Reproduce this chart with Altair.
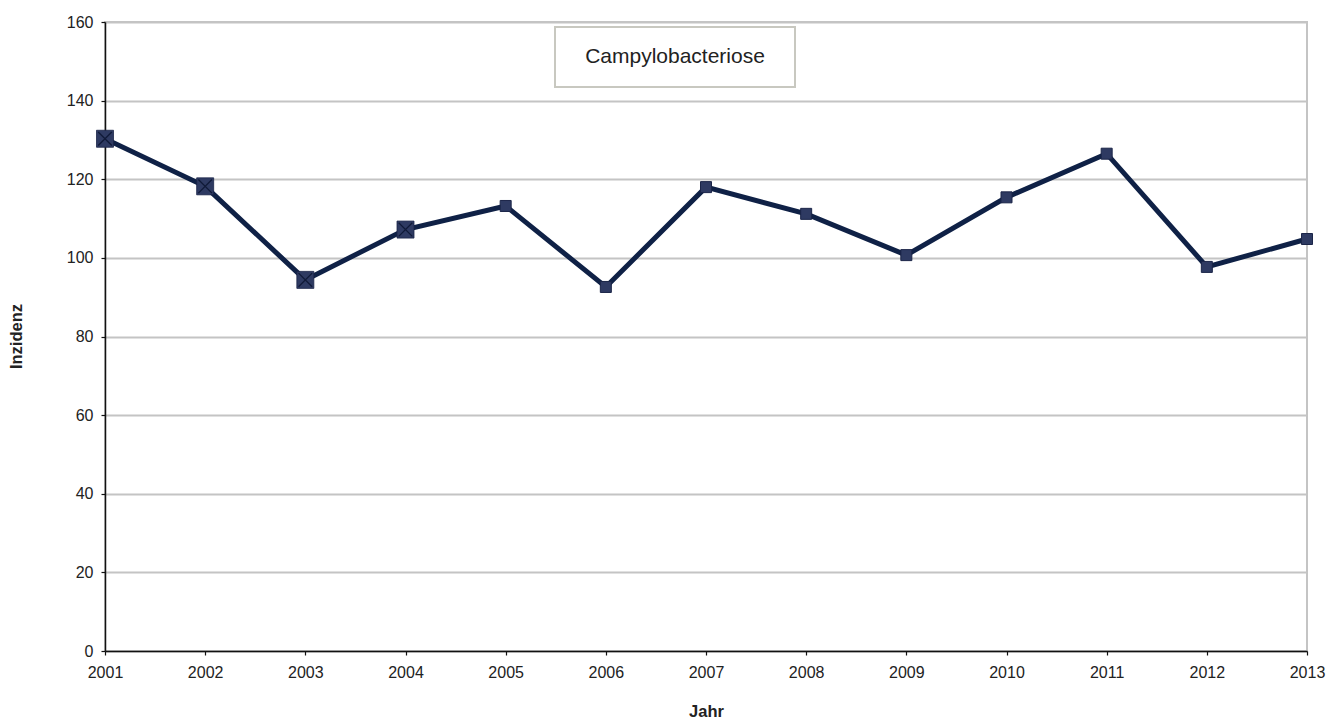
import altair as alt
import pandas as pd

# Daten
jahre = [2001, 2002, 2003, 2004, 2005, 2006, 2007, 2008, 2009, 2010, 2011, 2012, 2013]
inzidenz = [130.3, 118.2, 94.4, 107.2, 113.2, 92.6, 118.0, 111.2, 100.7, 115.4, 126.5, 97.7, 104.8]
titel = "Campylobacteriose"

df = pd.DataFrame({"Jahr": jahre, "Inzidenz": inzidenz})

linie_farbe = "#0F2146"
punkt_farbe = "#2E3A62"
schrift = "Liberation Sans"

x_achse = alt.X(
    "Jahr:Q",
    scale=alt.Scale(domain=[2001, 2013], nice=False, zero=False),
    axis=alt.Axis(
        values=jahre, format="d", grid=False, title="Jahr", labelFlush=False,
        labelPadding=9,
        titleX=601, titleY=65, titleBaseline="alphabetic", titleAlign="center",
    ),
)
y_achse = alt.Y(
    "Inzidenz:Q",
    scale=alt.Scale(domain=[0, 160], nice=False),
    axis=alt.Axis(
        values=list(range(0, 161, 20)), title="Inzidenz", labelFlush=False,
        titleX=-89, titleY=314, titleAngle=-90,
        titleBaseline="middle", titleAlign="center",
    ),
)

basis = alt.Chart(df).encode(x=x_achse, y=y_achse)

linie = basis.mark_line(color=linie_farbe, strokeWidth=5)

# 2001-2004: groessere Quadrate mit Kreuz, danach kleine Quadrate
gross = basis.transform_filter("datum.Jahr <= 2004").mark_point(
    shape="square", filled=True, size=289, color=punkt_farbe,
    stroke="#1B2548", strokeWidth=0.8, opacity=1,
)
kreuz = basis.transform_filter("datum.Jahr <= 2004").mark_point(
    shape="M-0.8,-0.8L0.8,0.8M0.8,-0.8L-0.8,0.8", filled=False, size=289,
    color="#101A38", strokeWidth=1.3, opacity=1,
)
klein = basis.transform_filter("datum.Jahr > 2004").mark_point(
    shape="square", filled=True, size=121, color=punkt_farbe,
    stroke="#1B2548", strokeWidth=1, opacity=1,
)

rahmen = alt.Chart(pd.DataFrame({"t": [titel]})).mark_rect(
    fill="white", stroke="#C8C8C0", strokeWidth=2
).encode(x=alt.value(450), x2=alt.value(690), y=alt.value(5), y2=alt.value(65))

beschriftung = alt.Chart(pd.DataFrame({"t": [titel]})).mark_text(
    font=schrift, fontSize=21, color="#222222", align="center", baseline="middle"
).encode(x=alt.value(570), y=alt.value(35), text="t:N")

chart = alt.layer(linie, gross, kreuz, klein, rahmen, beschriftung).properties(
    width=1202, height=629,
    autosize=alt.AutoSizeParams(type="none"),
    padding={"left": 97, "top": 14, "right": 27, "bottom": 69},
    background="white",
).configure_view(
    stroke="#C4C4C4", strokeWidth=2
).configure_axis(
    labelFont=schrift, labelFontSize=16, labelColor="#222222",
    titleFont=schrift, titleFontSize=16.5, titleFontWeight="bold", titleColor="#222222",
    domainColor="#111111", domainWidth=1.5,
    tickColor="#111111", tickSize=4, tickWidth=1.2,
    labelPadding=8, gridColor="#C4C4C4", gridWidth=2,
)

chart.save("out.html", embed_options={"renderer": "svg", "actions": False})
